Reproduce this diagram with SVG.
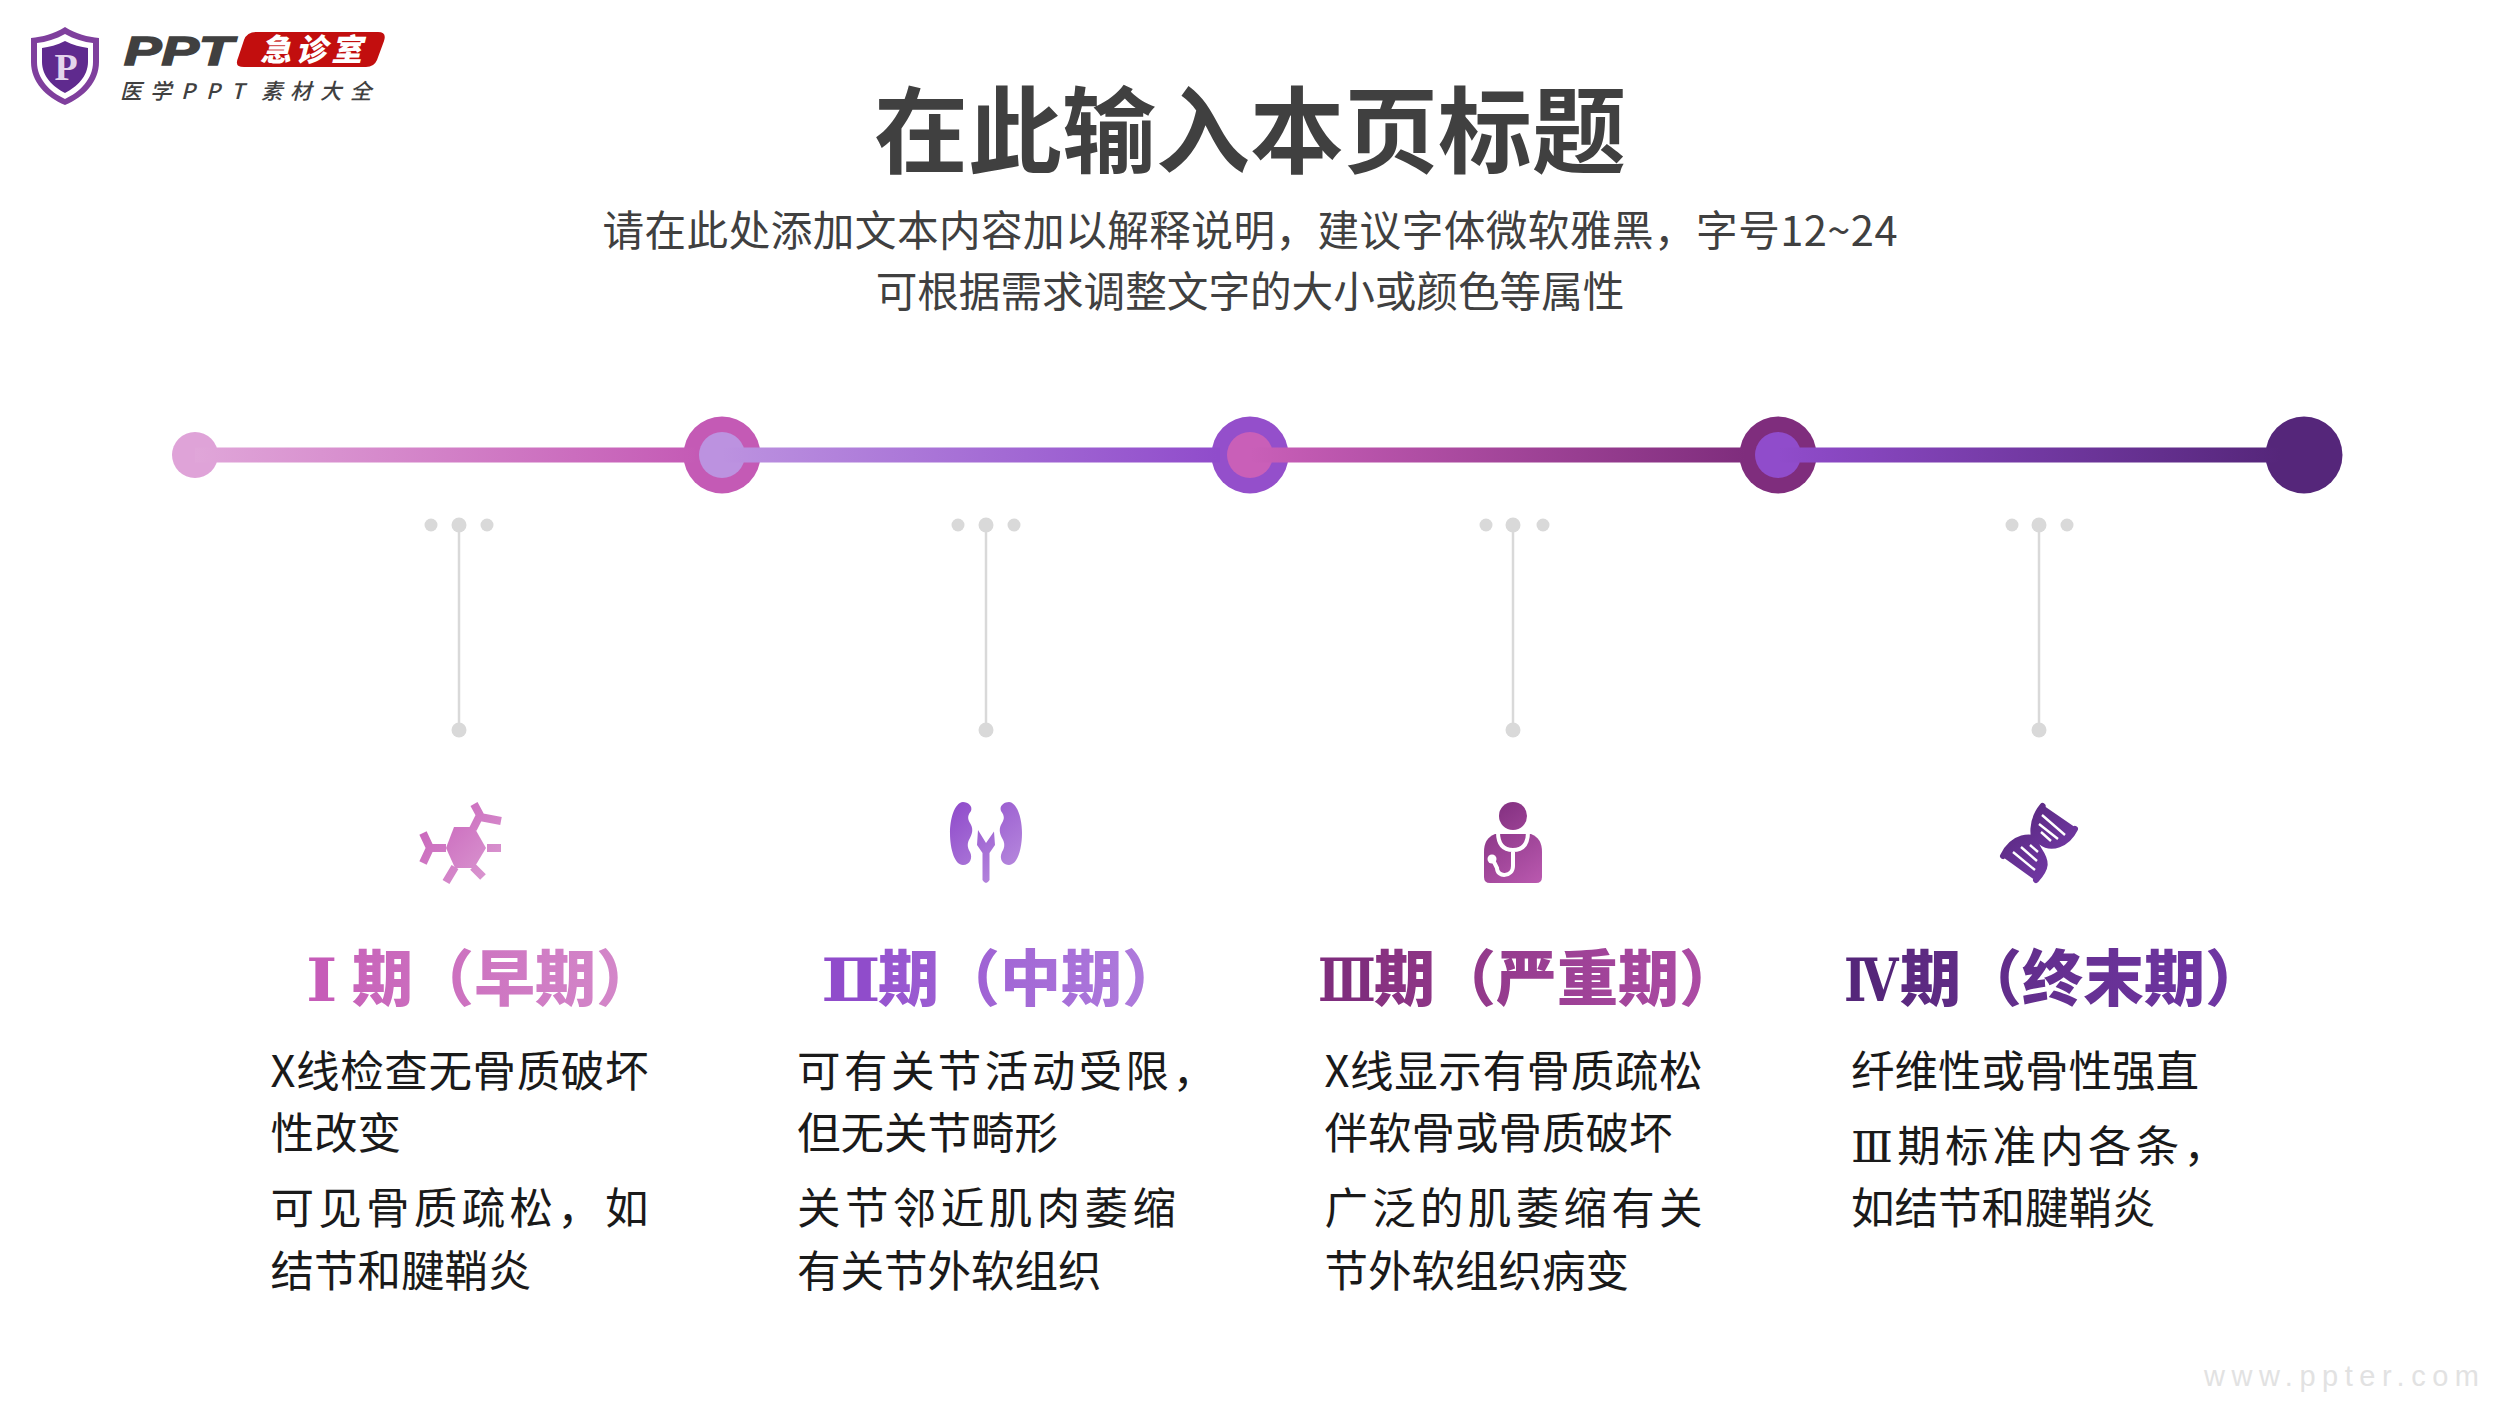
<svg xmlns="http://www.w3.org/2000/svg" width="2500" height="1406" viewBox="0 0 2500 1406">
<style>
text{font-family:"Noto Sans CJK SC","Liberation Sans",sans-serif}
.title{font-size:94px;font-weight:700;fill:#404040;text-anchor:middle}
.sub{font-size:41.6px;fill:#404040;text-anchor:middle}
.stage{font-size:61px;font-weight:900}
text.rn{font-family:"DejaVu Serif",serif;font-weight:700;font-size:60px}
.rb{font-family:"DejaVu Serif",serif}
.body{font-size:43.5px;fill:#1a1a1a}
.dot{fill:#d9d9d9}
.vline{stroke:#d9d9d9;stroke-width:2.5;fill:none}
.seg{stroke-width:15;fill:none}
.wm{font-family:"Liberation Sans",sans-serif;font-size:29px;fill:#e2e2e2}
</style>
<defs>
<linearGradient id="s1" gradientUnits="userSpaceOnUse" x1="195" y1="0" x2="700" y2="0"><stop offset="0" stop-color="#e0a6d9"/><stop offset="1" stop-color="#c45ab5"/></linearGradient>
<linearGradient id="s2" gradientUnits="userSpaceOnUse" x1="722" y1="0" x2="1217" y2="0"><stop offset="0" stop-color="#bc92e0"/><stop offset="1" stop-color="#904ccb"/></linearGradient>
<linearGradient id="s3" gradientUnits="userSpaceOnUse" x1="1250" y1="0" x2="1745" y2="0"><stop offset="0" stop-color="#c95fb8"/><stop offset="1" stop-color="#7f2d7d"/></linearGradient>
<linearGradient id="s4" gradientUnits="userSpaceOnUse" x1="1778" y1="0" x2="2280" y2="0"><stop offset="0" stop-color="#904ccb"/><stop offset="1" stop-color="#55267a"/></linearGradient>
<linearGradient id="t1"><stop offset="0" stop-color="#c864ba"/><stop offset="1" stop-color="#d58ccb"/></linearGradient>
<linearGradient id="t2"><stop offset="0" stop-color="#9654cf"/><stop offset="1" stop-color="#b281de"/></linearGradient>
<linearGradient id="t3"><stop offset="0" stop-color="#873180"/><stop offset="1" stop-color="#b04fa8"/></linearGradient>
<linearGradient id="t4"><stop offset="0" stop-color="#5b297f"/><stop offset="1" stop-color="#7238a8"/></linearGradient>
<linearGradient id="i1" gradientUnits="userSpaceOnUse" x1="421" y1="805" x2="505" y2="885"><stop offset="0" stop-color="#c65cb8"/><stop offset="1" stop-color="#dc9ed3"/></linearGradient>
<linearGradient id="i2" gradientUnits="userSpaceOnUse" x1="955" y1="805" x2="1025" y2="885"><stop offset="0" stop-color="#904ccb"/><stop offset="1" stop-color="#bc92e0"/></linearGradient>
<linearGradient id="i3" gradientUnits="userSpaceOnUse" x1="1489" y1="805" x2="1547" y2="885"><stop offset="0" stop-color="#7f2d7d"/><stop offset="1" stop-color="#bb5ab0"/></linearGradient>
<linearGradient id="i4" gradientUnits="userSpaceOnUse" x1="2008" y1="805" x2="2082" y2="885"><stop offset="0" stop-color="#55267a"/><stop offset="1" stop-color="#7a3db0"/></linearGradient>
</defs>
<rect width="2500" height="1406" fill="#fff"/>

<g id="logo">
<path d="M65 27 C54 34 42 37 31 38 L31 62 C31 82 46 97 65 105 C84 97 99 82 99 62 L99 38 C88 37 76 34 65 27Z" fill="#7f3f9d"/>
<path d="M65 34 C56 39 46 42 37 43 L37 62 C37 79 50 92 65 99 C80 92 93 79 93 62 L93 43 C84 42 74 39 65 34Z" fill="#fff"/>
<path d="M65 41 C57 45 49 47 42 48 L42 62 C42 76 53 87 65 93 C77 87 88 76 88 62 L88 48 C81 47 73 45 65 41Z" fill="#5f2a8e"/>
<text x="66" y="80" font-size="38" font-weight="700" fill="#e4d4ec" text-anchor="middle" style="font-family:'Liberation Serif',serif">P</text>
<text x="124" y="65" font-size="41" font-weight="700" font-style="italic" fill="#404040" stroke="#404040" stroke-width="1.6" textLength="109" lengthAdjust="spacingAndGlyphs" style="font-family:'Liberation Sans',sans-serif">PPT</text>
<path d="M250 32 H378 Q387 32 384 41 L377 60 Q374 67 366 67 H244 Q234 67 238 58 L244 40 Q247 32 256 32Z" fill="#c20e0e"/>
<text x="260" y="61" font-size="31" font-weight="900" font-style="italic" fill="#fff" textLength="102" lengthAdjust="spacing">急诊室</text>
<text y="99" x="120 150 181 206 231 261 290 320 350" font-size="21.5" font-weight="500" font-style="italic" fill="#404040">医学PPT素材大全</text>
</g>

<g id="heading">
<text class="title" x="1250" y="166">在此输入本页标题</text>
<text class="sub" x="1250" y="246" textLength="1295">请在此处添加文本内容加以解释说明，建议字体微软雅黑，字号12~24</text>
<text class="sub" x="1250" y="307">可根据需求调整文字的大小或颜色等属性</text>
</g>

<g id="node-0"><circle cx="195" cy="455" r="23" fill="#dfa3d8"/></g>
<g id="node-1"><circle cx="722" cy="455" r="38.5" fill="#c45ab5"/><circle cx="722" cy="455" r="23" fill="#bc92e0"/></g>
<g id="node-2"><circle cx="1250" cy="455" r="38.5" fill="#944fcb"/><circle cx="1250" cy="455" r="23" fill="#c95fb8"/></g>
<g id="node-3"><circle cx="1778" cy="455" r="38.5" fill="#7f2d7d"/><circle cx="1778" cy="455" r="23" fill="#904ccb"/></g>
<g id="node-4"><circle cx="2304" cy="455" r="38.5" fill="#55267a"/></g>

<g id="connectors">
<line class="seg" x1="195" y1="455" x2="695" y2="455" stroke="url(#s1)"/>
<line class="seg" x1="722" y1="455" x2="1220" y2="455" stroke="url(#s2)"/>
<line class="seg" x1="1250" y1="455" x2="1748" y2="455" stroke="url(#s3)"/>
<line class="seg" x1="1778" y1="455" x2="2284" y2="455" stroke="url(#s4)"/>
<line class="vline" x1="459" y1="525" x2="459" y2="730"/>
<line class="vline" x1="986" y1="525" x2="986" y2="730"/>
<line class="vline" x1="1513" y1="525" x2="1513" y2="730"/>
<line class="vline" x1="2039" y1="525" x2="2039" y2="730"/>
</g>

<g id="stage-1">
<circle class="dot" cx="431" cy="525" r="6.5"/><circle class="dot" cx="459" cy="525" r="7.5"/><circle class="dot" cx="487" cy="525" r="6.5"/><circle class="dot" cx="459" cy="730" r="7.5"/>
<g transform="translate(-3 0)">
<g fill="none" stroke="url(#i1)" stroke-width="8"><path d="M490 848 H504 M476 829 L483 815 L477 804 M483 817 L504 821 M476 867 L486 877 M458 867 L449 882 M449 848 H433 L426 833 M433 848 L426 863"/></g>
<path d="M457 827 H477 L489 848 L477 868 H458 L449 848Z" fill="url(#i1)"/>
</g>
<text class="stage rn" transform="translate(306 1001) scale(1.12 1)" fill="#c65cb8">Ⅰ</text>
<text class="stage" x="352" y="1001" fill="url(#t1)">期（早期）</text>
<text class="body" x="270.5" y="1087" textLength="378">X线检查无骨质破坏</text>
<text class="body" x="270.5" y="1149">性改变</text>
<text class="body" x="270.5" y="1224" textLength="378">可见骨质疏松，如</text>
<text class="body" x="270.5" y="1287">结节和腱鞘炎</text>
</g>

<g id="stage-2">
<circle class="dot" cx="958" cy="525" r="6.5"/><circle class="dot" cx="986" cy="525" r="7.5"/><circle class="dot" cx="1014" cy="525" r="6.5"/><circle class="dot" cx="986" cy="730" r="7.5"/>
<g transform="translate(-3 0)">
<path d="M966 802 C957 803 953 820 953 833 C953 850 958 865 966 865 C973 865 976 858 973 852 C970 847 970 843 973 838 C976 832 976 828 973 823 C970 818 971 815 974 811 C976 806 971 802 966 802Z" fill="url(#i2)"/>
<path d="M1012 802 C1021 803 1025 820 1025 833 C1025 850 1020 865 1012 865 C1005 865 1002 858 1005 852 C1008 847 1008 843 1005 838 C1002 832 1002 828 1005 823 C1008 818 1007 815 1004 811 C1002 806 1007 802 1012 802Z" fill="url(#i2)"/>
<path d="M981 830 L989 843 L997 831.5 L998 845 L992.5 853 V880 Q989 886 985.5 880 V853 L980 845Z" fill="url(#i2)"/>
</g>
<text class="stage rn" transform="translate(821 1001) scale(1.18 1)" fill="#904ccb">Ⅱ</text>
<text class="stage" x="878" y="1001" fill="url(#t2)">期（中期）</text>
<text class="body" x="797" y="1087" textLength="419">可有关节活动受限，</text>
<text class="body" x="797" y="1149">但无关节畸形</text>
<text class="body" x="797" y="1224" textLength="379">关节邻近肌肉萎缩</text>
<text class="body" x="797" y="1287">有关节外软组织</text>
</g>

<g id="stage-3">
<circle class="dot" cx="1486" cy="525" r="6.5"/><circle class="dot" cx="1513" cy="525" r="7.5"/><circle class="dot" cx="1543" cy="525" r="6.5"/><circle class="dot" cx="1513" cy="730" r="7.5"/>
<g transform="translate(-5 0)">
<ellipse cx="1518" cy="816" rx="14" ry="14" fill="url(#i3)"/>
<path d="M1500 834 H1536 Q1547 838 1547 852 V877 Q1547 883 1541 883 H1495 Q1489 883 1489 877 V852 Q1489 838 1500 834Z" fill="url(#i3)"/>
<path d="M1503 832 C1503 846 1510 850 1518 850 C1526 850 1533 846 1533 832 M1518 850 V866 C1518 877 1502 878 1502 868 L1498 860" fill="none" stroke="#fff" stroke-width="4"/>
<circle cx="1497" cy="859" r="4.5" fill="#fff"/>
</g>
<text class="stage rn" transform="translate(1318 1001) scale(.79 1)" fill="#7f2d7d">Ⅲ</text>
<text class="stage" x="1374" y="1001" fill="url(#t3)">期（严重期）</text>
<text class="body" x="1324.5" y="1087" textLength="378">X线显示有骨质疏松</text>
<text class="body" x="1324.5" y="1149">伴软骨或骨质破坏</text>
<text class="body" x="1324.5" y="1224" textLength="378">广泛的肌萎缩有关</text>
<text class="body" x="1324.5" y="1287">节外软组织病变</text>
</g>

<g id="stage-4">
<circle class="dot" cx="2012" cy="525" r="6.5"/><circle class="dot" cx="2039" cy="525" r="7.5"/><circle class="dot" cx="2067" cy="525" r="6.5"/><circle class="dot" cx="2039" cy="730" r="7.5"/>
<g transform="translate(-5 0)">
<path d="M2048 807 L2080 829 C2072 845 2056 850 2046 842 C2037 834 2036 820 2048 807Z" fill="url(#i4)" stroke="url(#i4)" stroke-width="3"/>
<path d="M2009 856 L2041 879 C2052 868 2052 862 2044 850 C2036 834 2018 836 2009 856Z" fill="url(#i4)" stroke="url(#i4)" stroke-width="3"/>
<path d="M2047.6 806 C2036 820 2036 838 2044 850 C2052 862 2052 868 2041 880 M2080 829 C2072 845 2056 850 2046 842 C2036 834 2018 836 2008 856" fill="none" stroke="url(#i4)" stroke-width="6" stroke-linecap="round"/>
<path d="M2047 815 L2070 835 M2044 824 L2063 839 M2046 832 L2056 841 M2018 852 L2040 870 M2026 847 L2042 861 M2035 845 L2043 852" fill="none" stroke="#fff" stroke-width="2.4"/>
</g>
<text class="stage rn" transform="translate(1844 1001) scale(.8 1)" fill="#55267a">Ⅳ</text>
<text class="stage" x="1900" y="1001" fill="url(#t4)">期（终末期）</text>
<text class="body" x="1851" y="1087">纤维性或骨性强直</text>
<text class="body" x="1851" y="1162" textLength="376"><tspan class="rb">Ⅲ</tspan>期标准内各条，</text>
<text class="body" x="1851" y="1224">如结节和腱鞘炎</text>
</g>

<text class="wm" x="2204" y="1386" textLength="275">www.ppter.com</text>
</svg>
